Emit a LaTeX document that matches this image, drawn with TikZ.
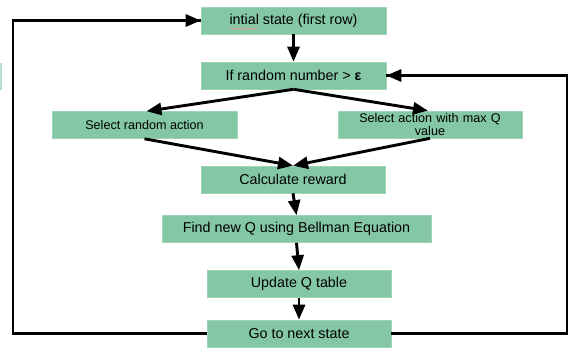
\documentclass[tikz,border=0pt]{standalone}
\usepackage{fontspec}
\setmainfont{Liberation Sans}
\usepackage{xcolor}
\usetikzlibrary{arrows.meta, positioning, decorations.pathmorphing}

\definecolor{boxgreen}{RGB}{132,199,165}
\definecolor{boxedge}{RGB}{160,212,185}

\begin{document}
\begin{tikzpicture}[
    x=1pt, y=-1pt,
    % Styles for the flow chart
    stepbox/.style={draw=boxedge, line width=0.6pt, fill=boxgreen, inner sep=0pt,
        minimum height=27pt, text=black, font=\fontsize{14.3}{17}\selectfont},
    smallbox/.style={stepbox, font=\fontsize{12.6}{14}\selectfont, align=center},
    flow/.style={draw=black, line width=2.9pt,
        -{Triangle[length=15pt, width=12pt]}},
    loopline/.style={draw=black, line width=2.9pt, line join=miter}
]
    \useasboundingbox (0,0) rectangle (573,356);

    % 1. The steps of the loop
    \node[stepbox, minimum width=185pt] (init) at (293.5,20.5) {intial state (first row)};
    \node[stepbox, minimum width=185pt] (rand) at (293.5,75.5) {If random number > {\bfseries ε}};
    \node[smallbox, minimum width=185pt] (explore) at (144.5,125) {Select random action};
    \node[smallbox, minimum width=184pt, text width=184pt] (exploit) at (430,124.5)
        {Select action with max Q\\[-0.5pt]value};
    \node[stepbox, minimum width=184pt] (reward) at (293,179.5) {Calculate reward};
    \node[stepbox, minimum width=269pt] (bellman) at (296.5,229) {Find new Q using Bellman Equation};
    \node[stepbox, minimum width=184pt] (update) at (299,284) {Update Q table};
    \node[stepbox, minimum width=184pt] (next) at (299,333.5) {Go to next state};

    % spell-check squiggle under the first word
    \draw[red!45, line width=0.4pt, decorate,
        decoration={snake, amplitude=0.6pt, segment length=2.4pt}] (229,28.8) -- (257,28.8);

    % leftover edge of a box cut off at the border
    \fill[boxgreen!60] (0,63) rectangle (2.2,90);

    % 2. Arrows between the steps
    \draw[flow] (init.south) -- (rand.north);
    \draw[flow] (rand.south) -- ([xshift=2pt]explore.north);
    \draw[flow] (rand.south) -- ([xshift=-2pt]exploit.north);
    \draw[flow] (explore.south) -- (reward.north);
    \draw[flow] (exploit.south) -- (reward.north);
    \draw[flow] (reward.south) -- (bellman.north);
    \draw[flow] (bellman.south) -- (update.north);
    \draw[flow] (update.south) -- (next.north);

    % 3. The two ways back to the top
    \coordinate (loopL) at (13,0);
    \coordinate (loopR) at (567,0);
    \draw[loopline] (next.west) -- (next.west -| loopL) |- (init.west);
    \draw[flow] (loopL |- init.west) -- (init.west);
    \draw[loopline] (next.east) -- (next.east -| loopR) |- (rand.east);
    \draw[flow] (loopR |- rand.east) -- (rand.east);

\end{tikzpicture}
\end{document}
